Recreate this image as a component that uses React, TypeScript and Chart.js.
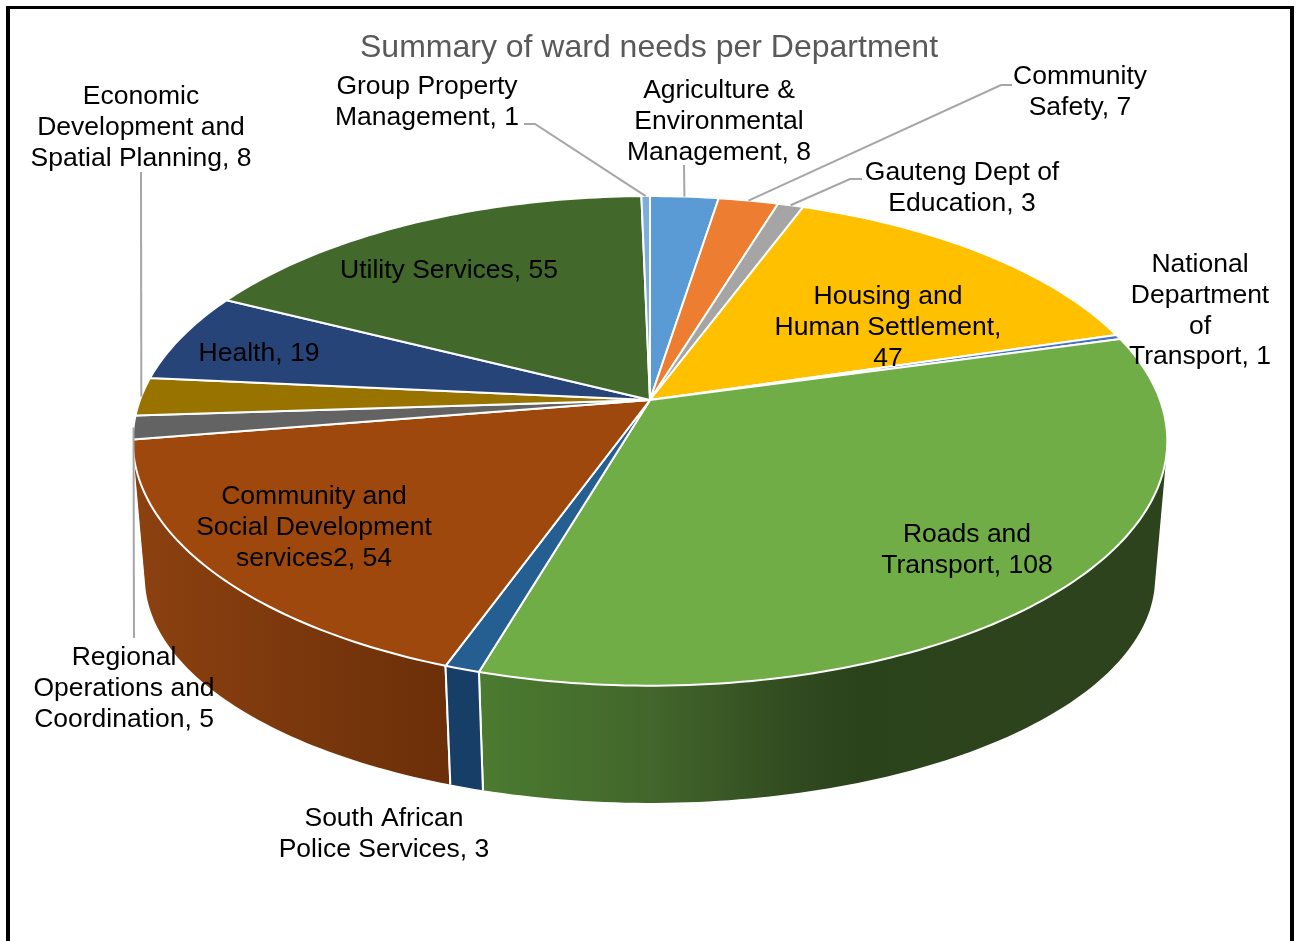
import React, { useEffect, useRef } from "react";
import { Chart, registerables } from "chart.js";

Chart.register(...registerables);

const titleText = "Summary of ward needs per Department";

const categories = [
  "Agriculture &\nEnvironmental\nManagement",
  "Community\nSafety",
  "Gauteng Dept of\nEducation",
  "Housing and\nHuman Settlement,\n",
  "National\nDepartment\nof\nTransport",
  "Roads and\nTransport",
  "South African\nPolice Services",
  "Community and\nSocial Development\nservices2",
  "Regional\nOperations and\nCoordination",
  "Economic\nDevelopment and\nSpatial Planning",
  "Health",
  "Utility Services",
  "Group Property\nManagement",
];
const values = [8, 7, 3, 47, 1, 108, 3, 54, 5, 8, 19, 55, 1];
const sliceColors = [
  "#5B9BD5", "#ED7D31", "#A5A5A5", "#FFC000", "#4472C4", "#70AD47", "#255E91",
  "#9E480E", "#636363", "#997300", "#264478", "#43682B", "#7CAFDD",
];
// Side-wall shading of each slice, as [fraction across the slice, colour] stops.
const wallShades: [number, string][][] = [
  [[0, "#3B6A96"]], [[0, "#A85822"]], [[0, "#757575"]], [[0, "#B38700"]], [[0, "#304F8A"]],
  [[0, "#4B7B30"], [0.25, "#42662B"], [0.47, "#30491F"], [0.55, "#2B431B"], [1, "#2D431E"]],
  [[0, "#163E66"]],
  [[0, "#8C4110"], [1, "#6B2F09"]],
  [[0, "#454545"]], [[0, "#6B5000"]], [[0, "#1A2F54"]], [[0, "#2F491E"]], [[0, "#5A82A8"]],
];

// Text anchor per slice: centre x, y of the first line's middle, line step.
const labelAnchors: [number, number, number][] = [
  [719, 91, 30.6], [1080, 77, 31], [962, 173, 31], [888, 297, 30.6], [1200, 265, 30.7],
  [967, 535, 31], [384, 819, 31], [314, 497, 31], [124, 658, 30.6], [141, 97, 31],
  [259, 354, 31], [449, 271, 31], [427, 87, 31],
];
// Leader-line waypoints from the label towards its slice; the last point is the rim itself.
const leaderRoutes: Record<number, [number, number][]> = {
  0: [[684, 165]],
  1: [[1012, 85], [1001, 85]],
  2: [[862, 179], [850, 179]],
  8: [[134, 638]],
  9: [[141, 172]],
  12: [[524, 124], [535, 124]],
};

// Perspective view of the top and bottom discs of the pie.
const tilt = 0.167;
const topDisc = { cx: 650, cy: 400, a: 510, b: 238 };
const baseDisc = { cx: 650, cy: 540, a: 498, b: 219 };

type Disc = typeof topDisc;
type Pt = [number, number];
const project = (d: Disc, theta: number): Pt => {
  const u = Math.sin(theta);
  const v = -Math.cos(theta);
  const w = 1 - tilt * v;
  return [d.cx + (d.a * u) / w, d.cy + (d.b * v) / w];
};

const sampleArc = (d: Disc, from: number, to: number) => {
  const steps = Math.max(2, Math.ceil((to - from) / (Math.PI / 180)));
  const pts: Pt[] = [];
  for (let i = 0; i <= steps; i++) pts.push(project(d, from + ((to - from) * i) / steps));
  return pts;
};

const tracePolygon = (ctx: CanvasRenderingContext2D, pts: Pt[]) => {
  pts.forEach(([x, y], i) => (i ? ctx.lineTo(x, y) : ctx.moveTo(x, y)));
  ctx.closePath();
};

const signedArea = (pts: Pt[]) =>
  pts.reduce((sum, p, i) => {
    const q = pts[(i + 1) % pts.length];
    return sum + p[0] * q[1] - q[0] * p[1];
  }, 0);

const sliceAngles = (chart: any) =>
  chart.getDatasetMeta(0).data.map((arc: any) => ({
    from: arc.startAngle + Math.PI / 2,
    to: arc.endAngle + Math.PI / 2,
  }));

// Replaces the flat arcs with a tilted, extruded pie using the angles Chart.js laid out.
const extrudedPie = {
  id: "extrudedPie",
  beforeDatasetDraw(chart: any) {
    const ctx: CanvasRenderingContext2D = chart.ctx;
    const angles = sliceAngles(chart);
    const order = angles
      .map((_: any, i: number) => i)
      .sort(
        (p: number, q: number) =>
          -Math.cos((angles[p].from + angles[p].to) / 2) + Math.cos((angles[q].from + angles[q].to) / 2)
      );
    ctx.save();
    ctx.lineJoin = "round";
    ctx.strokeStyle = "#FFFFFF";
    ctx.lineWidth = 2;
    for (const i of order) {
      const { from, to } = angles[i];
      const rim = sampleArc(topDisc, from, to);
      const base = sampleArc(baseDisc, from, to);
      const xs = [...rim, ...base].map((p) => p[0]);
      const grad = ctx.createLinearGradient(Math.min(...xs), 0, Math.max(...xs), 0);
      wallShades[i].forEach(([at, color]) => grad.addColorStop(at, color));
      // One path of same-wound strips, so the wall's silhouette is the union of its rulings.
      ctx.beginPath();
      for (let k = 0; k + 1 < rim.length; k++) {
        const strip: Pt[] = [rim[k], rim[k + 1], base[k + 1], base[k]];
        tracePolygon(ctx, signedArea(strip) < 0 ? strip.reverse() : strip);
      }
      ctx.fillStyle = grad;
      ctx.fill();
      [[from, rim[0], base[0]], [to, rim[rim.length - 1], base[base.length - 1]]].forEach((edge: any) => {
        if (-Math.cos(edge[0]) > 0.3) {
          ctx.beginPath();
          ctx.moveTo(edge[1][0], edge[1][1]);
          ctx.lineTo(edge[2][0], edge[2][1]);
          ctx.stroke();
        }
      });
    }
    angles.forEach(({ from, to }: any, i: number) => {
      ctx.beginPath();
      tracePolygon(ctx, [[topDisc.cx, topDisc.cy], ...sampleArc(topDisc, from, to)]);
      ctx.fillStyle = sliceColors[i];
      ctx.fill();
      ctx.stroke();
    });
    ctx.restore();
    return false;
  },
  afterDatasetsDraw(chart: any) {
    const ctx: CanvasRenderingContext2D = chart.ctx;
    const angles = sliceAngles(chart);
    ctx.save();
    ctx.strokeStyle = "#A6A6A6";
    ctx.lineWidth = 2;
    Object.entries(leaderRoutes).forEach(([key, route]) => {
      const { from, to } = angles[Number(key)];
      const end = project(topDisc, (from + to) / 2);
      ctx.beginPath();
      route.forEach(([x, y], n) => (n ? ctx.lineTo(x, y) : ctx.moveTo(x, y)));
      ctx.lineTo(end[0], end[1]);
      ctx.stroke();
    });
    ctx.fillStyle = "#000000";
    ctx.font = '26.5px "Liberation Sans"';
    ctx.textAlign = "center";
    ctx.textBaseline = "middle";
    categories.forEach((name, i) => {
      const text = name.endsWith("\n") ? `${name}${values[i]}` : `${name}, ${values[i]}`;
      const [x, y, step] = labelAnchors[i];
      text.split("\n").forEach((line, n) => ctx.fillText(line, x, y + n * step));
    });
    ctx.restore();
  },
};

export default function App() {
  const canvasRef = useRef<HTMLCanvasElement>(null);

  useEffect(() => {
    const chart = new Chart(canvasRef.current!, {
      type: "pie",
      data: {
        labels: categories,
        datasets: [{ data: values, backgroundColor: sliceColors, borderColor: "#FFFFFF" }],
      },
      options: {
        responsive: false,
        animation: false,
        plugins: {
          legend: { display: false },
          tooltip: { enabled: false },
          title: {
            display: true,
            text: titleText,
            color: "#595959",
            font: { family: '"Liberation Sans"', size: 32, weight: "normal" },
            padding: { top: 29, bottom: 0 },
          },
        },
      },
      plugins: [extrudedPie],
    } as any);
    return () => chart.destroy();
  }, []);

  return (
    <div style={{ position: "absolute", left: 0, top: 0, width: 1298, height: 941, overflow: "hidden", background: "#fff" }}>
      <canvas ref={canvasRef} width={1298} height={941} style={{ position: "absolute", left: 0, top: 0 }} />
      <div
        style={{
          position: "absolute",
          left: 6,
          top: 6,
          width: 1280,
          height: 1000,
          borderStyle: "solid",
          borderColor: "#000",
          borderWidth: "3px 4px 0 4px",
        }}
      />
    </div>
  );
}
